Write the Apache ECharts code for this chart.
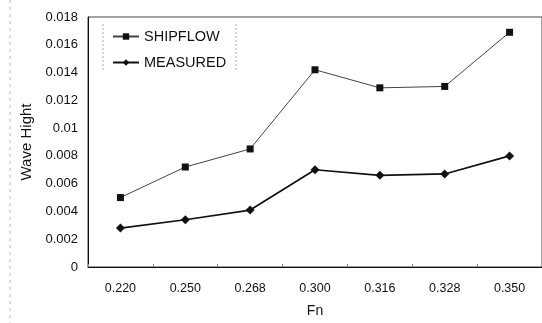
<!DOCTYPE html>
<html>
<head>
<meta charset="utf-8">
<style>
html,body{margin:0;padding:0;background:#fff;}
#chart{width:542px;height:323px;}
</style>
<script src="https://cdn.jsdelivr.net/npm/echarts@6/dist/echarts.min.js"></script>
</head>
<body>
<div id="chart"></div>
<script>
var categories = ['0.220', '0.250', '0.268', '0.300', '0.316', '0.328', '0.350'];
var shipflow = [0.0050, 0.0072, 0.0085, 0.0142, 0.0129, 0.0130, 0.0169];
var measured = [0.0028, 0.0034, 0.0041, 0.0070, 0.0066, 0.0067, 0.0080];

var chart = echarts.init(document.getElementById('chart'));
var font = 'Liberation Sans, Arial, sans-serif';
chart.setOption({
  animation: false,
  backgroundColor: '#fff',
  textStyle: { fontFamily: font, color: '#111' },
  grid: { left: 88, right: -1, top: 17, bottom: 51, show: true, borderColor: '#444', borderWidth: 1 },
  legend: {
    orient: 'vertical', left: 107, top: 24, itemWidth: 26, itemHeight: 8, itemGap: 11,
    textStyle: { fontFamily: font, fontSize: 14.5, color: '#111' },
    data: ['SHIPFLOW', 'MEASURED']
  },
  xAxis: {
    type: 'category', data: categories, boundaryGap: true,
    name: 'Fn', nameLocation: 'middle', nameGap: 37,
    nameTextStyle: { fontFamily: font, fontSize: 14, color: '#111' },
    axisLine: { lineStyle: { color: '#111', width: 1 } },
    axisTick: { show: true, length: 3, inside: true, lineStyle: { color: '#888' } },
    axisLabel: { fontFamily: font, fontSize: 12.5, color: '#111', margin: 15 }
  },
  yAxis: {
    type: 'value', min: 0, max: 0.018, interval: 0.002,
    name: 'Wave Hight', nameLocation: 'middle', nameGap: 50, nameRotate: 90,
    nameTextStyle: { fontFamily: font, fontSize: 15, color: '#111' },
    axisLine: { show: true, lineStyle: { color: '#111', width: 1 } },
    axisTick: { show: false },
    splitLine: { show: false },
    axisLabel: {
      fontFamily: font, fontSize: 13, color: '#111', margin: 10,
      formatter: function (v) { return String(Math.round(v * 1000) / 1000); }
    }
  },
  graphic: [
    { type: 'line', shape: { x1: 103, y1: 24, x2: 103, y2: 70 }, style: { stroke: '#aaa', lineWidth: 1, lineDash: [2, 2] } },
    { type: 'line', shape: { x1: 236, y1: 24, x2: 236, y2: 70 }, style: { stroke: '#aaa', lineWidth: 1, lineDash: [2, 2] } },
    { type: 'line', shape: { x1: 10, y1: 0, x2: 10, y2: 323 }, style: { stroke: '#bbb', lineWidth: 1, lineDash: [3, 4] } }
  ],
  series: [
    {
      name: 'SHIPFLOW', type: 'line', data: shipflow,
      symbol: 'rect', symbolSize: 7,
      lineStyle: { color: '#444', width: 1 },
      itemStyle: { color: '#111' }
    },
    {
      name: 'MEASURED', type: 'line', data: measured,
      symbol: 'diamond', symbolSize: 9,
      lineStyle: { color: '#111', width: 1.7 },
      itemStyle: { color: '#111' }
    }
  ]
});
</script>
</body>
</html>
